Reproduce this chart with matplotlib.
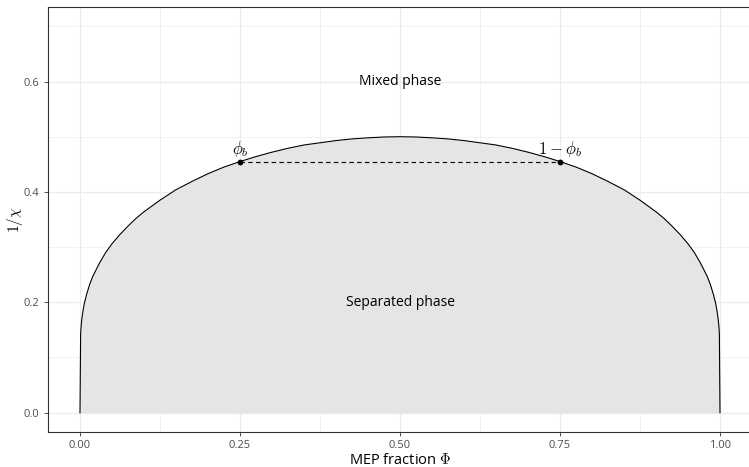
import numpy as np
import matplotlib.pyplot as plt

plt.rcParams['font.family'] = ['Open Sans', 'DejaVu Sans']
plt.rcParams['mathtext.fontset'] = 'cm'

# Binodal curve (MEP fraction vs 1/chi), left half
phi_left = [0.0, 0.001, 0.002, 0.003, 0.005, 0.007, 0.01, 0.015, 0.02, 0.03,
            0.04, 0.05, 0.0625, 0.075, 0.0875, 0.1, 0.125, 0.15, 0.175, 0.2,
            0.225, 0.25, 0.275, 0.3, 0.325, 0.35, 0.375, 0.4, 0.425, 0.45,
            0.475, 0.5]
inv_chi_left = [0.0, 0.144, 0.160, 0.171, 0.187, 0.199, 0.213, 0.232, 0.247, 0.270,
                0.290, 0.306, 0.323, 0.338, 0.352, 0.364, 0.385, 0.404, 0.419, 0.433,
                0.445, 0.455, 0.464, 0.472, 0.479, 0.485, 0.489, 0.493, 0.496, 0.498,
                0.4995, 0.500]
# right half mirrors the left one
phi = phi_left + [1 - p for p in phi_left[-2::-1]]
inv_chi = inv_chi_left + inv_chi_left[-2::-1]

# Tie line end points
tie_phi = [0.25, 0.75]
tie_y = [0.455, 0.455]
tie_labels = [r'$\phi_b$', r'$1-\phi_b$']

region_labels = ['Mixed phase', 'Separated phase']
region_x = [0.5, 0.5]
region_y = [0.6, 0.2]

fig = plt.figure(figsize=(7.49, 4.67), dpi=100)
ax = fig.add_axes([48 / 749, 35 / 467, 704 / 749, 425 / 467])

ax.fill_between(phi, inv_chi, 0, color='#E5E5E5', linewidth=0)
ax.plot(phi, inv_chi, color='black', linewidth=0.8)
ax.plot(tie_phi, tie_y, color='black', linestyle=(0, (4, 3)), linewidth=0.8)
ax.scatter(tie_phi, tie_y, color='black', s=10, zorder=5)
for x, y, lab in zip(tie_phi, tie_y, tie_labels):
    ax.annotate(lab, (x, y), xytext=(0, 2), textcoords='offset points',
                ha='center', va='bottom', fontsize=12)

for x, y, lab in zip(region_x, region_y, region_labels):
    ax.text(x, y, lab, ha='center', va='center', fontsize=10)

ax.set_xlim(-0.05, 1.05)
ax.set_ylim(-0.035, 0.735)
ax.set_xticks([0, 0.25, 0.5, 0.75, 1.0])
ax.set_xticklabels(['0.00', '0.25', '0.50', '0.75', '1.00'])
ax.set_yticks([0, 0.2, 0.4, 0.6])
ax.set_yticklabels(['0.0', '0.2', '0.4', '0.6'])
ax.set_xticks([0.125, 0.375, 0.625, 0.875], minor=True)
ax.set_yticks([0.1, 0.3, 0.5, 0.7], minor=True)
ax.grid(True, which='major', color='#EBEBEB', linewidth=0.9)
ax.grid(True, which='minor', color='#EBEBEB', linewidth=0.45)
ax.set_axisbelow(True)
ax.tick_params(which='major', length=3, width=0.6, color='#333333',
               labelsize=8, labelcolor='#4D4D4D', pad=3)
ax.tick_params(which='minor', length=0)
for s in ax.spines.values():
    s.set_color('#333333')
    s.set_linewidth(0.8)

ax.set_xlabel(r'MEP fraction $\Phi$', fontsize=10.5, labelpad=1)
ax.set_ylabel(r'$1/\chi$', fontsize=11, va='center')
ax.yaxis.set_label_coords((15 - 48) / 704, 0.5)

fig.savefig('out.png', dpi=100)
